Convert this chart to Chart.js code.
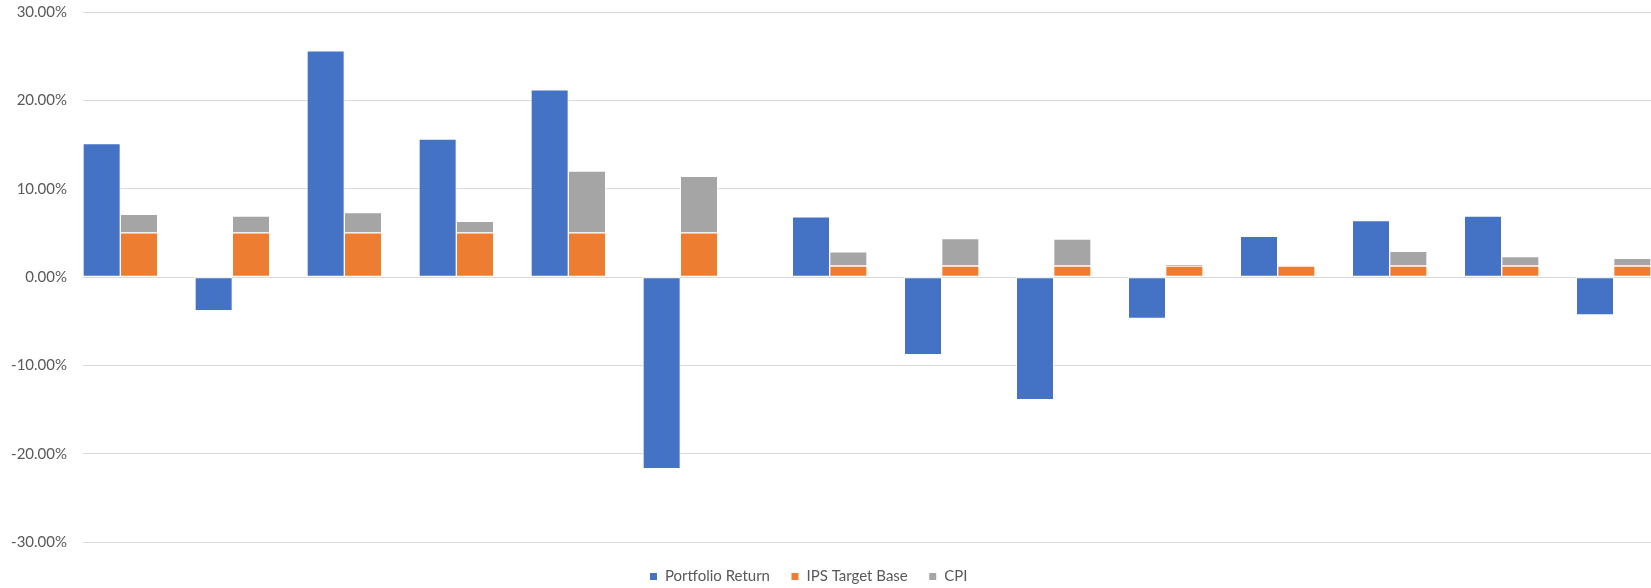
<!DOCTYPE html>
<html>
<head>
<meta charset="utf-8">
<script src="https://cdn.jsdelivr.net/npm/chart.js@4.4.1/dist/chart.umd.min.js"></script>
<style>
    html, body { margin: 0; padding: 0; background: #ffffff; overflow: hidden; }
    #wrap { position: relative; width: 1651px; height: 588px; }
</style>
</head>
<body>
<div id="wrap"><canvas id="chart01"></canvas></div>
<script>
// periods (no labels are shown on the axis in the original)
const categories = ['Period 1', 'Period 2', 'Period 3', 'Period 4', 'Period 5', 'Period 6', 'Period 7',
    'Period 8', 'Period 9', 'Period 10', 'Period 11', 'Period 12', 'Period 13', 'Period 14'];
const portfolioReturn = [15.1, -3.8, 25.6, 15.6, 21.2, -21.7, 6.8, -8.8, -13.9, -4.7, 4.6, 6.4, 6.9, -4.3];
const ipsTargetBase = [5, 5, 5, 5, 5, 5, 1.25, 1.25, 1.25, 1.25, 1.25, 1.25, 1.25, 1.25];
const cpi = [2.1, 1.9, 2.3, 1.3, 7.0, 6.4, 1.6, 3.1, 3.05, 0.15, 0, 1.65, 1.05, 0.85];
const yTicks = [-30, -20, -10, 0, 10, 20, 30];

// the sheet lays each period out as: return column, target+cpi column, empty column,
// with one extra empty column between the first block and the second block
const breakAfter = 6;
const totalSlots = 42;

const slotLabels = [];
const slotReturn = [];
const slotTarget = [];
const slotCpi = [];
for (let i = 0; i < totalSlots; i++) {
    slotLabels.push('');
    slotReturn.push(null);
    slotTarget.push(null);
    slotCpi.push(null);
}
categories.forEach((cat, i) => {
    const s = i * 3 + (i >= breakAfter ? 1 : 0);
    if (s < totalSlots) {
        slotLabels[s] = cat;
        slotReturn[s] = portfolioReturn[i];
    }
    if (s + 1 < totalSlots) {
        slotTarget[s + 1] = ipsTargetBase[i];
        slotCpi[s + 1] = cpi[i];
    }
});

// nudge the legend to where the sheet had it
const shiftLegend = {
    id: 'shiftLegend',
    afterLayout(chart) {
        const lg = chart.legend;
        if (!lg) return;
        lg.left -= 17;
        lg.right -= 17;
        lg.top += 6;
        lg.bottom += 6;
    }
};

const ctx01 = document.getElementById('chart01');
const barStyle = { borderWidth: 1, borderColor: '#ffffff', borderSkipped: false, barPercentage: 1, categoryPercentage: 1, stack: 's' };

new Chart(ctx01, {
    type: 'bar',
    data: {
        labels: slotLabels,
        datasets: [
            Object.assign({ label: 'Portfolio Return', data: slotReturn, backgroundColor: '#4472C4' }, barStyle),
            Object.assign({ label: 'IPS Target Base', data: slotTarget, backgroundColor: '#ED7D31' }, barStyle),
            Object.assign({ label: 'CPI', data: slotCpi, backgroundColor: '#A5A5A5' }, barStyle)
        ]
    },
    options: {
        responsive: true,
        maintainAspectRatio: false,
        animation: false,
        layout: { padding: { top: 0, left: 0, right: 0, bottom: 0 } },
        plugins: {
            tooltip: { enabled: false },
            legend: {
                position: 'bottom',
                labels: {
                    boxWidth: 8,
                    boxHeight: 8,
                    padding: 21,
                    color: '#595959',
                    font: { family: 'Lato', size: 15 }
                }
            }
        },
        scales: {
            x: {
                display: false,
                stacked: true
            },
            y: {
                stacked: true,
                min: yTicks[0],
                max: yTicks[yTicks.length - 1],
                afterBuildTicks: (s) => { s.ticks = yTicks.map(v => ({ value: v })); },
                afterFit: (s) => { s.width = 83; s.paddingTop = 12; },
                border: { display: false },
                grid: { color: '#d9d9d9', lineWidth: 1, drawTicks: false },
                ticks: {
                    padding: 16,
                    color: '#595959',
                    font: { family: 'Lato', size: 15 },
                    callback: (v) => v.toFixed(2) + '%'
                }
            }
        }
    },
    plugins: [shiftLegend]
});
</script>
</body>
</html>
